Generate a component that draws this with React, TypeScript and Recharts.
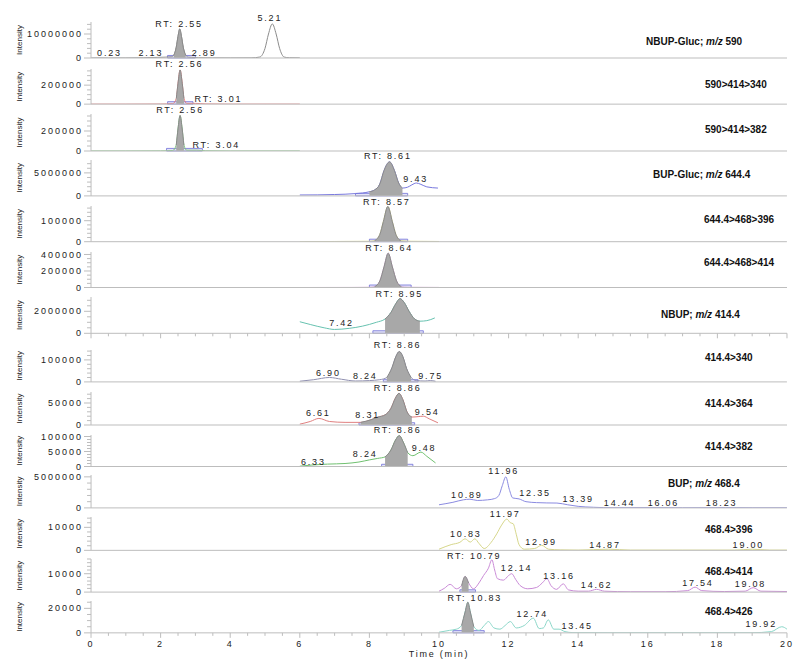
import React from "react";
import {
  ComposedChart,
  Area,
  XAxis,
  YAxis,
  ReferenceDot,
  ReferenceArea,
} from "recharts";

type Pt = { t: number; v: number };
type Lbl = [number, number, string];
const pts = (rows: number[][]): Pt[] => rows.map(([t, v]) => ({ t, v }));

// ---- traces (time in min, intensity) ----
const nbupGluc590 = pts([
  [0, 0], [0.23, 0.05e6], [0.5, 0], [1.0, 0.02e6], [1.5, 0.1e6], [1.9, 0.25e6], [2.13, 0.35e6],
  [2.3, 0.5e6], [2.38, 1.2e6], [2.45, 4.5e6], [2.5, 9e6], [2.55, 12.1e6], [2.6, 9e6], [2.65, 4.5e6],
  [2.72, 1.2e6], [2.8, 0.35e6], [2.89, 0.25e6], [3.1, 0.1e6], [3.5, 0.05e6], [4.0, 0.03e6],
  [4.6, 0.05e6], [4.85, 0.4e6], [5.0, 4e6], [5.1, 10e6], [5.21, 14.2e6], [5.32, 10e6], [5.42, 4e6],
  [5.55, 0.4e6], [5.7, 0.1e6], [6.0, 0.05e6],
]);
const mrm590_414_340 = pts([
  [0, 0], [1, 0], [2, 0.01e5], [2.35, 0.05e5], [2.45, 0.6e5], [2.5, 2.2e5], [2.56, 3.6e5], [2.62, 2.2e5],
  [2.67, 0.6e5], [2.75, 0.08e5], [3.01, 0.08e5], [3.3, 0.02e5], [4, 0], [5, 0], [6, 0],
]);
const mrm590_414_382 = pts([
  [0, 0], [1, 0], [2, 0.01e5], [2.35, 0.05e5], [2.45, 0.6e5], [2.5, 2.2e5], [2.56, 3.55e5], [2.62, 2.2e5],
  [2.67, 0.6e5], [2.75, 0.08e5], [3.04, 0.08e5], [3.3, 0.02e5], [4, 0], [5, 0], [6, 0],
]);
const bupGluc644 = pts([
  [6.0, 0.2e6], [6.5, 0.22e6], [7.0, 0.3e6], [7.6, 0.5e6], [8.0, 0.9e6], [8.15, 1.3e6], [8.3, 2.6e6],
  [8.42, 5.5e6], [8.58, 7.4e6], [8.72, 5.5e6], [8.84, 2.8e6], [8.95, 1.7e6], [9.1, 1.9e6], [9.22, 2.4e6],
  [9.35, 2.8e6], [9.48, 2.5e6], [9.65, 1.96e6], [9.97, 1.7e6],
]);
const mrm644_468_396 = pts([
  [6.0, 0], [7.0, 0.01e5], [8.0, 0.02e5], [8.15, 0.05e5], [8.3, 0.35e5], [8.4, 0.95e5], [8.53, 1.68e5],
  [8.66, 0.95e5], [8.76, 0.35e5], [8.9, 0.05e5], [9.2, 0.02e5], [10.0, 0.01e5],
]);
const mrm644_468_414 = pts([
  [6.0, 0], [7.5, 0.01e5], [8.0, 0.03e5], [8.15, 0.1e5], [8.3, 0.8e5], [8.42, 2.5e5], [8.54, 4.16e5],
  [8.66, 2.5e5], [8.78, 0.8e5], [8.92, 0.1e5], [9.1, 0.03e5], [10.0, 0.01e5],
]);
const nbup414 = pts([
  [6.0, 1.05e6], [6.3, 0.8e6], [6.7, 0.5e6], [7.0, 0.35e6], [7.42, 0.45e6], [7.8, 0.65e6], [8.2, 1.0e6],
  [8.45, 1.3e6], [8.62, 1.9e6], [8.76, 2.7e6], [8.88, 3.15e6], [9.0, 2.8e6], [9.14, 2.0e6], [9.3, 1.3e6],
  [9.45, 1.1e6], [9.65, 1.15e6], [9.88, 1.4e6],
]);
const mrm414_340 = pts([
  [6.0, 0.03e5], [6.4, 0.1e5], [6.85, 0.2e5], [7.2, 0.12e5], [7.6, 0.04e5], [8.0, 0.06e5], [8.3, 0.1e5],
  [8.5, 0.2e5], [8.65, 0.65e5], [8.76, 1.15e5], [8.86, 1.38e5], [8.96, 1.15e5], [9.07, 0.6e5],
  [9.2, 0.2e5], [9.35, 0.06e5], [9.6, 0.04e5], [9.75, 0.06e5], [9.9, 0.03e5],
]);
const mrm414_364 = pts([
  [6.0, 0.2e4], [6.3, 0.8e4], [6.55, 1.5e4], [6.85, 0.8e4], [7.3, 0.6e4], [7.75, 0.6e4], [8.05, 1.2e4],
  [8.25, 1.8e4], [8.45, 2.3e4], [8.62, 3.8e4], [8.74, 6.0e4], [8.85, 7.2e4], [8.96, 5.8e4], [9.08, 3.0e4],
  [9.22, 1.8e4], [9.4, 1.9e4], [9.55, 2.0e4], [9.72, 1.4e4], [9.97, 0.5e4],
]);
const mrm414_382 = pts([
  [6.0, 0.1e4], [6.35, 0.5e4], [6.8, 0.8e4], [7.3, 1.0e4], [7.7, 1.5e4], [8.0, 2.2e4], [8.24, 2.7e4],
  [8.45, 3.2e4], [8.62, 5.5e4], [8.75, 8.8e4], [8.86, 10.3e4], [8.97, 8.2e4], [9.1, 4.6e4],
  [9.25, 3.6e4], [9.48, 4.8e4], [9.65, 3.4e4], [9.9, 1.2e4],
]);
const bup468 = pts([
  [10.0, 0.5e6], [10.4, 0.9e6], [10.7, 1.3e6], [10.89, 1.4e6], [11.1, 1.2e6], [11.4, 1.3e6], [11.6, 1.5e6],
  [11.72, 2.0e6], [11.82, 3.6e6], [11.92, 5.0e6], [12.02, 3.0e6], [12.12, 1.6e6], [12.3, 1.45e6],
  [12.5, 1.0e6], [12.8, 0.85e6], [13.1, 0.8e6], [13.39, 0.78e6], [13.7, 0.5e6], [14.0, 0.25e6],
  [14.44, 0.1e6], [15.0, 0.03e6], [16.06, 0.05e6], [17.0, 0.02e6], [18.23, 0.05e6], [19.0, 0.02e6],
  [20.0, 0.02e6],
]);
const mrm468_396 = pts([
  [10.0, 0.05e4], [10.35, 0.25e4], [10.6, 0.35e4], [10.75, 0.5e4], [10.9, 0.36e4], [11.03, 0.5e4],
  [11.15, 0.3e4], [11.3, 0.08e4], [11.5, 0.35e4], [11.66, 0.72e4], [11.8, 1.1e4], [11.95, 1.36e4],
  [12.05, 1.2e4], [12.13, 1.16e4], [12.22, 0.7e4], [12.3, 0.25e4], [12.45, 0.05e4], [12.75, 0.08e4],
  [12.95, 0.22e4], [13.15, 0.05e4], [13.5, 0.02e4], [14.0, 0.01e4], [14.87, 0.05e4], [15.5, 0.01e4],
  [17.0, 0.01e4], [18.5, 0.01e4], [19.0, 0.05e4], [19.5, 0.01e4], [20.0, 0.01e4],
]);
const mrm468_414 = pts([
  [10.0, 0.05e4], [10.15, 0.2e4], [10.32, 0.42e4], [10.5, 0.18e4], [10.65, 0.35e4], [10.75, 0.85e4],
  [10.85, 0.5e4], [10.99, 0.18e4], [11.15, 0.5e4], [11.28, 0.9e4], [11.42, 1.3e4], [11.52, 1.76e4],
  [11.6, 1.2e4], [11.68, 0.73e4], [11.85, 0.65e4], [12.0, 0.9e4], [12.09, 1.0e4], [12.2, 0.7e4],
  [12.33, 0.36e4], [12.55, 0.18e4], [12.8, 0.25e4], [12.97, 0.5e4], [13.1, 0.73e4], [13.22, 0.35e4],
  [13.38, 0.15e4], [13.57, 0.45e4], [13.72, 0.12e4], [14.0, 0.05e4], [14.3, 0.05e4], [14.53, 0.15e4],
  [14.75, 0.05e4], [15.5, 0.02e4], [16.5, 0.02e4], [17.15, 0.08e4], [17.36, 0.27e4], [17.55, 0.08e4],
  [18.2, 0.03e4], [18.8, 0.05e4], [19.03, 0.24e4], [19.25, 0.05e4], [20.0, 0.03e4],
]);
const mrm468_426 = pts([
  [10.0, 0.05e4], [10.3, 0.2e4], [10.5, 0.3e4], [10.65, 0.6e4], [10.75, 1.7e4], [10.83, 2.5e4],
  [10.9, 1.7e4], [11.0, 0.5e4], [11.15, 0.2e4], [11.3, 0.6e4], [11.42, 0.92e4], [11.58, 0.4e4],
  [11.75, 0.3e4], [11.9, 0.6e4], [12.05, 0.92e4], [12.22, 0.4e4], [12.45, 0.6e4], [12.71, 1.2e4],
  [12.88, 0.35e4], [13.0, 0.4e4], [13.14, 1.06e4], [13.3, 0.3e4], [13.45, 0.3e4], [13.62, 0.1e4],
  [13.85, 0.02e4], [15.0, 0.01e4], [17.0, 0.01e4], [19.0, 0.01e4], [19.55, 0.1e4], [19.85, 0.5e4],
  [20.0, 0.3e4],
]);

// ---- peak annotations: [display time, anchor intensity, text] ----
const lbl590: Lbl[] = [[0.53, 0, "0.23"], [1.72, 0.2e6, "2.13"], [2.53, 12.1e6, "RT: 2.55"], [3.25, 0.2e6, "2.89"], [5.14, 14.6e6, "5.21"]];
const lbl590_340: Lbl[] = [[2.54, 3.65e5, "RT: 2.56"], [3.66, 0, "RT: 3.01"]];
const lbl590_382: Lbl[] = [[2.56, 3.59e5, "RT: 2.56"], [3.6, 0.1e5, "RT: 3.04"]];
const lbl644: Lbl[] = [[8.53, 7.65e6, "RT: 8.61"], [9.33, 2.6e6, "9.43"]];
const lbl644_396: Lbl[] = [[8.5, 1.66e5, "RT: 8.57"]];
const lbl644_414: Lbl[] = [[8.57, 4.15e5, "RT: 8.64"]];
const lbl414: Lbl[] = [[7.2, 0.44e6, "7.42"], [8.86, 3.1e6, "RT: 8.95"]];
const lbl414_340: Lbl[] = [[6.82, 0.17e5, "6.90"], [7.88, 0.02e5, "8.24"], [8.81, 1.43e5, "RT: 8.86"], [9.76, 0.02e5, "9.75"]];
const lbl414_364: Lbl[] = [[6.53, 1.55e4, "6.61"], [7.95, 1.25e4, "8.31"], [8.81, 7.2e4, "RT: 8.86"], [9.66, 1.77e4, "9.54"]];
const lbl414_382: Lbl[] = [[6.39, 0, "6.33"], [7.88, 2.4e4, "8.24"], [8.81, 10.4e4, "RT: 8.86"], [9.57, 4.6e4, "9.48"]];
const lbl468: Lbl[] = [[10.8, 1.2e6, "10.89"], [11.86, 5.08e6, "11.96"], [12.76, 1.58e6, "12.35"], [14.0, 0.68e6, "13.39"], [15.19, 0, "14.44"], [16.45, 0, "16.06"], [18.12, 0, "18.23"]];
const lbl468_396: Lbl[] = [[10.77, 0.51e4, "10.83"], [11.9, 1.36e4, "11.97"], [12.93, 0.15e4, "12.99"], [14.77, 0, "14.87"], [18.89, 0, "19.00"]];
const lbl468_414: Lbl[] = [[11.01, 1.7e4, "RT: 10.79"], [12.23, 1.06e4, "12.14"], [13.45, 0.61e4, "13.16"], [14.53, 0.1e4, "14.62"], [17.44, 0.24e4, "17.54"], [18.95, 0.19e4, "19.08"]];
const lbl468_426: Lbl[] = [[11.03, 2.47e4, "RT: 10.83"], [12.68, 1.1e4, "12.74"], [13.97, 0.12e4, "13.45"], [19.26, 0.34e4, "19.92"]];

const titles = [
  "NBUP-Gluc; m/z 590", "590>414>340", "590>414>382", "BUP-Gluc; m/z 644.4", "644.4>468>396",
  "644.4>468>414", "NBUP; m/z 414.4", "414.4>340", "414.4>364", "414.4>382", "BUP; m/z 468.4",
  "468.4>396", "468.4>414", "468.4>426",
];
const xTickLabels = [0, 2, 4, 6, 8, 10, 12, 14, 16, 18, 20];

// ---- panel table: y range, tick step, labelled ticks, integrated peak ----
const panels = [
  { data: nbupGluc590, labels: lbl590, max: 1.5e7, step: 2e6, majors: [0, 1e7], peak: [2.38, 2.74], box: [2.2, 3.0], color: "#8c8c8c" },
  { data: mrm590_414_340, labels: lbl590_340, max: 3.7e5, step: 5e4, majors: [0, 2e5], peak: [2.42, 2.72], box: [2.2, 2.93], color: "#e07a7a" },
  { data: mrm590_414_382, labels: lbl590_382, max: 3.7e5, step: 5e4, majors: [0, 2e5], peak: [2.42, 2.72], box: [2.17, 3.2], color: "#7cc47c" },
  { data: bupGluc644, labels: lbl644, max: 7.8e6, step: 1e6, majors: [0, 5e6], peak: [8.0, 9.0], box: [7.6, 9.1], color: "#7777dd" },
  { data: mrm644_468_396, labels: lbl644_396, max: 1.7e5, step: 2e4, majors: [0, 1e5], peak: [8.15, 8.95], box: [8.0, 9.1], color: "#d8d890" },
  { data: mrm644_468_414, labels: lbl644_414, max: 4.3e5, step: 5e4, majors: [0, 2e5, 4e5], peak: [8.15, 8.95], box: [8.0, 9.2], color: "#d8a8d8" },
  { data: nbup414, labels: lbl414, max: 3.3e6, step: 5e5, majors: [0, 2e6], peak: [8.35, 9.5], box: [8.1, 9.55], color: "#66c2b0" },
  { data: mrm414_340, labels: lbl414_340, max: 1.45e5, step: 2e4, majors: [0, 1e5], peak: [8.45, 9.3], box: [8.4, 9.4], color: "#9090b0" },
  { data: mrm414_364, labels: lbl414_364, max: 7.5e4, step: 1e4, majors: [0, 5e4], peak: [7.75, 9.25], box: [7.7, 9.3], color: "#e08080" },
  { data: mrm414_382, labels: lbl414_382, max: 1.05e5, step: 1e4, majors: [0, 5e4, 1e5], peak: [8.4, 9.2], box: [8.35, 9.25], color: "#70c070" },
  { data: bup468, labels: lbl468, max: 5.3e6, step: 1e6, majors: [0, 5e6], peak: null, box: null, color: "#8a8ae0" },
  { data: mrm468_396, labels: lbl468_396, max: 1.45e4, step: 2e3, majors: [0, 1e4], peak: null, box: null, color: "#d6d68a" },
  { data: mrm468_414, labels: lbl468_414, max: 1.8e4, step: 2e3, majors: [0, 1e4], peak: [10.62, 10.9], box: [10.6, 11.05], color: "#c98ad6" },
  { data: mrm468_426, labels: lbl468_426, max: 2.6e4, step: 5e3, majors: [0, 2e4], peak: [10.62, 11.05], box: [10.4, 11.3], color: "#8ad6c8" },
];

// page layout in pixels: plot baseline, plot top, title position
const layout = [
  { base: 58, top: 22, tx: 646, ty: 41.5 },
  { base: 104, top: 68.85, tx: 705, ty: 85 },
  { base: 150.7, top: 113.7, tx: 705, ty: 130 },
  { base: 195.7, top: 159.8, tx: 653, ty: 175 },
  { base: 242, top: 206.3, tx: 704, ty: 220 },
  { base: 287, top: 251.5, tx: 704, ty: 263.3 },
  { base: 333, top: 296.7, tx: 661, ty: 315 },
  { base: 382, top: 350.1, tx: 705, ty: 358.3 },
  { base: 425, top: 392, tx: 705, ty: 404 },
  { base: 466, top: 434.5, tx: 705, ty: 446.7 },
  { base: 508, top: 475.1, tx: 668, ty: 484.3 },
  { base: 550, top: 516.65, tx: 705, ty: 530 },
  { base: 591.7, top: 558.6, tx: 705, ty: 571.7 },
  { base: 633, top: 601.15, tx: 705, ty: 611.7 },
];

const FONT = '"Liberation Sans", Arial, Helvetica, sans-serif';
const AXIS = "#bdbdbd";
const INK = "#222";
const MT = 18;

function yTicks(max: number, step: number) {
  const out: number[] = [];
  for (let i = 0; i * step <= max + 1e-9; i++) out.push(Math.round(i * step));
  return out;
}

const xTicks: number[] = [];
for (let i = 0; i <= 40; i++) xTicks.push(i / 2);

const makeYTick = (majors: number[]) => (props: any) => {
  const { x, y, payload } = props;
  const major = majors.includes(payload.value);
  return (
    <g>
      <line x1={x - (major ? 7 : 4)} x2={x} y1={y} y2={y} stroke={AXIS} />
      {major && (
        <text x={x - 8} y={y} dy="0.35em" textAnchor="end" fontSize={9} letterSpacing={2} fill={INK} fontFamily={FONT}>
          {payload.value}
        </text>
      )}
    </g>
  );
};

const makeXTick = (showLabels: boolean) => (props: any) => {
  const { x, y, payload } = props;
  const major = xTickLabels.includes(payload.value);
  return (
    <g>
      <line x1={x} x2={x} y1={y} y2={y + (major ? 5 : 3)} stroke={AXIS} />
      {showLabels && major && (
        <text x={x} y={y + 14} textAnchor="middle" fontSize={9} letterSpacing={2} fill={INK} fontFamily={FONT}>
          {payload.value}
        </text>
      )}
    </g>
  );
};

function Title({ text }: { text: string }) {
  const parts = text.split("m/z");
  if (parts.length === 1) return <>{text}</>;
  return (
    <>
      {parts[0]}
      <i>m/z</i>
      {parts[1]}
    </>
  );
}

function Panel({ i }: { i: number }) {
  const p = panels[i];
  const L = layout[i];
  const isBottom = i === panels.length - 1;
  const hasTicks = i === 6 || isBottom;
  const axisH = isBottom ? 30 : 7;
  const height = MT + (L.base - L.top) + axisH;
  const peakData = p.peak ? p.data.filter((d) => d.t >= p.peak![0] && d.t <= p.peak![1]) : null;
  const labelStyle = { fontSize: 9, fill: INK, fontFamily: FONT, letterSpacing: 1.8 };

  return (
    <>
      <div style={{ position: "absolute", left: 0, top: L.top - MT }}>
        <ComposedChart width={800} height={height} margin={{ top: MT, right: 13, bottom: 0, left: 0 }}>
          <XAxis
            type="number"
            dataKey="t"
            domain={[0, 20]}
            allowDataOverflow
            ticks={hasTicks ? xTicks : []}
            interval={0}
            tick={hasTicks ? makeXTick(isBottom) : false}
            tickLine={false}
            tickSize={0}
            tickMargin={0}
            axisLine={{ stroke: AXIS }}
            height={axisH}
            label={
              isBottom
                ? { value: "Time (min)", position: "insideBottom", offset: 6, style: labelStyle }
                : undefined
            }
          />
          <YAxis
            type="number"
            dataKey="v"
            domain={[0, p.max]}
            allowDataOverflow
            ticks={yTicks(p.max, p.step)}
            interval={0}
            tick={makeYTick(p.majors)}
            tickLine={false}
            tickSize={0}
            tickMargin={0}
            axisLine={{ stroke: AXIS }}
            width={91}
            label={{
              value: "Intensity",
              angle: -90,
              position: "insideLeft",
              offset: 19,
              style: { textAnchor: "middle", fontSize: 8, fill: INK, fontFamily: FONT },
            }}
          />
          {p.box && (
            <ReferenceArea
              x1={p.box[0]}
              x2={p.box[1]}
              y1={0}
              y2={p.max * 0.07}
              stroke="#6f6fd8"
              strokeWidth={0.8}
              fill="#c9c9f2"
              fillOpacity={0.5}
              ifOverflow="visible"
            />
          )}
          <Area
            data={p.data}
            dataKey="v"
            type="monotone"
            stroke={p.color}
            strokeWidth={1}
            fill="none"
            dot={false}
            activeDot={false}
            isAnimationActive={false}
          />
          {peakData && (
            <Area
              data={peakData}
              dataKey="v"
              type="monotone"
              stroke="#8a8a8a"
              strokeWidth={1}
              fill="#a8a8a8"
              fillOpacity={1}
              dot={false}
              activeDot={false}
              isAnimationActive={false}
            />
          )}
          {p.labels.map(([t, v, text], k) => (
            <ReferenceDot
              key={k}
              x={t}
              y={v}
              r={0}
              fill="none"
              stroke="none"
              ifOverflow="visible"
              label={{ value: text, position: "top", offset: 2, style: labelStyle }}
            />
          ))}
        </ComposedChart>
      </div>
      <div
        style={{
          position: "absolute",
          left: L.tx,
          top: L.ty - 6,
          font: `bold 10px ${FONT}`,
          lineHeight: "12px",
          color: "#111",
          whiteSpace: "nowrap",
        }}
      >
        <Title text={titles[i]} />
      </div>
    </>
  );
}

export default function App() {
  return (
    <div
      style={{
        position: "absolute",
        left: 0,
        top: 0,
        width: 800,
        height: 668,
        background: "#fff",
        overflow: "hidden",
      }}
    >
      {panels.map((_, i) => (
        <Panel key={i} i={i} />
      ))}
    </div>
  );
}
